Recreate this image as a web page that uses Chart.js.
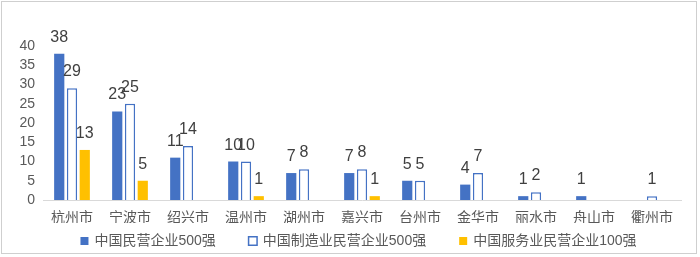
<!DOCTYPE html>
<html>
<head>
<meta charset="utf-8">
<script src="https://cdn.jsdelivr.net/npm/chart.js@4"></script>
<style>
  html, body { margin: 0; padding: 0; background: #fff; }
  .wrap { position: relative; width: 700px; height: 257px; }
  .frame {
    position: absolute; left: 1px; top: 1px; width: 694px; height: 251px;
    border: 1.5px solid #cfcfcf; pointer-events: none;
  }
</style>
</head>
<body>
<div class="wrap">
  <canvas id="chart" width="700" height="257"></canvas>
  <div class="frame"></div>
</div>
<script>
// cities and counts
const cities = ['杭州市', '宁波市', '绍兴市', '温州市', '湖州市', '嘉兴市', '台州市', '金华市', '丽水市', '舟山市', '衢州市'];
const privateTop500 = [38, 23, 11, 10, 7, 7, 5, 4, 1, 1, 0];
const manufTop500 = [29, 25, 14, 10, 8, 8, 5, 7, 2, 0, 1];
const serviceTop100 = [13, 5, 0, 1, 0, 1, 0, 0, 0, 0, 0];
const seriesNames = ['中国民营企业500强', '中国制造业民营企业500强', '中国服务业民营企业100强'];
const yTicks = [0, 5, 10, 15, 20, 25, 30, 35, 40];

const BLUE = '#4472C4';
const GOLD = '#FFC000';
const TEXT = '#595959';
const FONT = '"Liberation Sans", "Noto Sans CJK SC", sans-serif';

// zero means no bar in the original
const hideZero = arr => arr.map(v => (v === 0 ? null : v));

// number above each bar
const valueLabels = {
  id: 'valueLabels',
  afterDatasetsDraw(chart) {
    const ctx = chart.ctx;
    ctx.save();
    ctx.font = '16px ' + FONT;
    ctx.fillStyle = '#404040';
    ctx.textAlign = 'center';
    ctx.textBaseline = 'alphabetic';
    chart.data.datasets.forEach((ds, i) => {
      chart.getDatasetMeta(i).data.forEach((bar, j) => {
        const v = ds.data[j];
        if (!v) return;
        ctx.fillText(String(v), bar.x, bar.y - 12);
      });
    });
    ctx.restore();
  }
};

// legend row under the axis, items spaced like the original
const bottomLegend = {
  id: 'bottomLegend',
  afterDraw(chart) {
    const ctx = chart.ctx;
    const area = chart.chartArea;
    ctx.save();
    ctx.font = '14px ' + FONT;
    ctx.textBaseline = 'middle';
    const box = 10, gapText = 5, gapItem = 32;
    const items = chart.data.datasets.map(ds => ({
      ds, w: box + gapText + ctx.measureText(ds.label).width
    }));
    const total = items.reduce((s, it) => s + it.w, 0) + gapItem * (items.length - 1);
    let x = (area.left + area.right) / 2 - 4 - total / 2;
    const y = 241;
    items.forEach(it => {
      const ds = it.ds;
      if (ds.backgroundColor === '#ffffff') {
        ctx.fillStyle = '#fff';
        ctx.fillRect(x, y - 5, 10, 10);
        ctx.strokeStyle = ds.borderColor;
        ctx.lineWidth = 1.5;
        ctx.strokeRect(x + 0.75, y - 4.25, 8.5, 8.5);
      } else {
        ctx.fillStyle = ds.backgroundColor;
        ctx.fillRect(x + 1, y - 4, 8, 8);
      }
      ctx.fillStyle = TEXT;
      ctx.textAlign = 'left';
      ctx.fillText(ds.label, x + box + gapText, y);
      x += it.w + gapItem;
    });
    ctx.restore();
  }
};

new Chart(document.getElementById('chart'), {
  type: 'bar',
  data: {
    labels: cities,
    datasets: [
      { label: seriesNames[0], data: hideZero(privateTop500), backgroundColor: BLUE, borderWidth: 0 },
      { label: seriesNames[1], data: hideZero(manufTop500), backgroundColor: '#ffffff', borderColor: BLUE, borderWidth: 1.5 },
      { label: seriesNames[2], data: hideZero(serviceTop100), backgroundColor: GOLD, borderWidth: 0 }
    ]
  },
  options: {
    responsive: false,
    animation: false,
    categoryPercentage: 0.66,
    barPercentage: 0.8,
    layout: { padding: { top: 46, right: 19, bottom: 34, left: 0 } },
    plugins: {
      legend: { display: false },
      tooltip: { enabled: false }
    },
    scales: {
      x: {
        grid: { display: false, drawTicks: false },
        border: { display: true, color: '#d9d9d9', width: 1 },
        ticks: { color: TEXT, font: { size: 14, family: FONT }, padding: 10, maxRotation: 0, autoSkip: false },
        afterFit(scale) { scale.height = 23; }
      },
      y: {
        min: 0,
        max: 40,
        afterBuildTicks(scale) { scale.ticks = yTicks.map(v => ({ value: v })); },
        grid: { display: false, drawTicks: false },
        border: { display: false },
        ticks: { color: TEXT, font: { size: 14, family: FONT }, padding: 8, autoSkip: false },
        afterFit(scale) { scale.width = 43; }
      }
    }
  },
  plugins: [valueLabels, bottomLegend]
});
</script>
</body>
</html>
